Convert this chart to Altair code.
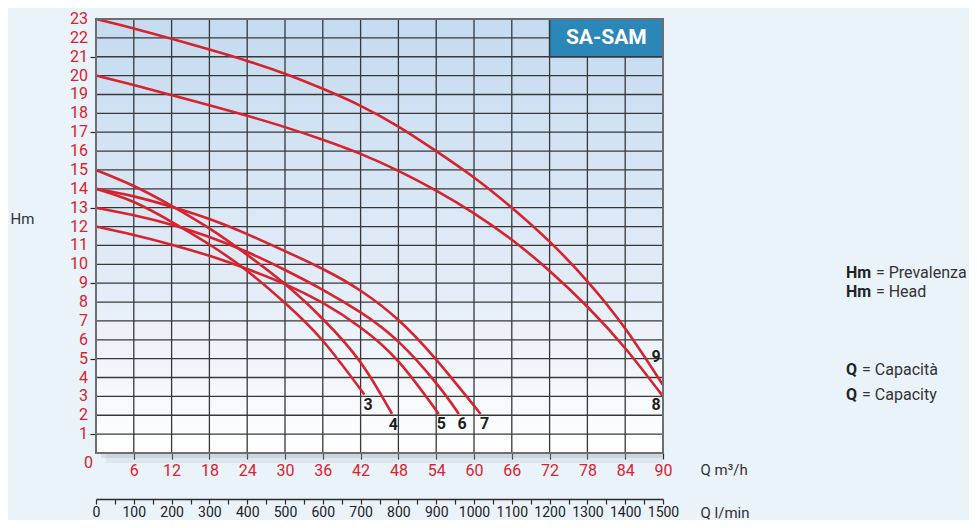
import altair as alt
import pandas as pd

# ---------------- data ----------------
curve_names = ["3", "4", "5", "6", "7", "8", "9"]

c3_q = [0, 6, 12, 18, 24, 30, 36, 42.6]
c3_h = [14, 13.3, 12.25, 11.05, 9.65, 7.95, 5.95, 3.1]

c4_q = [0, 6, 12, 18, 24, 30, 36, 42, 47]
c4_h = [15, 14.15, 13.1, 11.9, 10.5, 8.95, 7.1, 4.8, 2.07]

c5_q = [0, 6, 12, 18, 24, 30, 36, 42, 48, 54.4]
c5_h = [12, 11.55, 11.04, 10.45, 9.75, 8.95, 7.95, 6.65, 4.85, 2.07]

c6_q = [0, 6, 12, 18, 24, 30, 36, 42, 48, 54, 57.6]
c6_h = [13, 12.6, 12.1, 11.45, 10.65, 9.7, 8.65, 7.45, 5.9, 3.7, 2.07]

c7_q = [0, 6, 12, 18, 24, 30, 36, 42, 48, 54, 61.05]
c7_h = [14, 13.6, 13.05, 12.4, 11.6, 10.7, 9.75, 8.6, 7.05, 4.95, 2.07]

c8_q = [0, 6, 12, 18, 24, 30, 36, 42, 48, 54, 60, 66, 72, 78, 84, 90]
c8_h = [20, 19.5, 18.97, 18.43, 17.87, 17.27, 16.6, 15.85, 14.95, 13.9, 12.7, 11.3, 9.65, 7.75, 5.55, 3.0]

c9_q = [0, 6, 12, 18, 24, 30, 36, 42, 48, 54, 60, 66, 72, 78, 84, 90]
c9_h = [23, 22.5, 21.95, 21.38, 20.78, 20.1, 19.3, 18.4, 17.3, 16.0, 14.6, 13.0, 11.2, 9.1, 6.6, 3.6]

label_text = ["3", "4", "5", "6", "7", "8", "9"]
label_q = [43.2, 47.2, 54.8, 58.1, 61.7, 88.9, 88.9]
label_h = [2.55, 1.5, 1.55, 1.55, 1.55, 2.55, 5.1]

x_ticks = [6, 12, 18, 24, 30, 36, 42, 48, 54, 60, 66, 72, 78, 84, 90]
y_ticks = list(range(1, 24))
y_tick_labels = [str(v) for v in y_ticks]
lmin_ticks = list(range(0, 1501, 50))

x_grid = [6, 12, 18, 24, 30, 36, 42, 48, 54, 60, 66, 72, 78, 84]
y_grid = list(range(1, 23))

box_text = "SA-SAM"
box_q = [72, 90]
box_h = [21, 23]

legend_bold = ["Hm", "Hm", "Q", "Q"]
legend_rest = ["= Prevalenza", "= Head", "= Capacità", "= Capacity"]
# legend anchor positions, expressed in the chart's own units (Q, Hm)
legend_q = [119.05, 119.05, 119.05, 119.05]
legend_q2 = [123.8, 123.8, 121.6, 121.6]
legend_h = [9.54, 8.53, 4.40, 3.07]

# ---------------- styling ----------------
RED = "#d6232d"
FONT = "Roboto"
GRID = "#383838"
DARK = "#2a2a2a"

curve_sets = [c3_q, c4_q, c5_q, c6_q, c7_q, c8_q, c9_q]
curve_hs = [c3_h, c4_h, c5_h, c6_h, c7_h, c8_h, c9_h]
rows = []
for name, qs, hs in zip(curve_names, curve_sets, curve_hs):
    for i, (q, h) in enumerate(zip(qs, hs)):
        rows.append({"curve": name, "q": q, "h": h, "order": i})
curves_df = pd.DataFrame(rows)

xs = alt.Scale(domain=[0, 90], nice=False, zero=False)
ys = alt.Scale(domain=[0, 23], nice=False, zero=False)

frame_df = pd.DataFrame({"x": [0], "x2": [90], "y": [0], "y2": [23]})

x_axis = alt.Axis(
    values=x_ticks, labelColor=RED, labelFont=FONT, labelFontSize=16,
    tickColor=DARK, tickSize=6, tickWidth=1.2, domain=False, grid=False,
    labelPadding=3, labelOverlap=False, labelFlush=False,
    title="Q m³/h", titleX=604, titleY=16, titleAlign="left",
    titleBaseline="middle", titleFont=FONT, titleFontSize=15,
    titleFontWeight="normal", titleColor="#333333",
)
y_axis = alt.Axis(
    values=y_ticks, labels=False,
    tickColor=DARK, tickSize=6, tickWidth=1.2, domain=False, grid=False,
    title="Hm", titleAngle=0, titleX=-86, titleY=199,
    titleAlign="left", titleBaseline="middle", titleFont=FONT, titleFontSize=15,
    titleFontWeight="normal", titleColor="#333333",
)

shadow1 = alt.Chart(frame_df).mark_rect(
    color="#9aa7b4", opacity=0.25, xOffset=5, yOffset=5
).encode(x=alt.X("x:Q", scale=xs, axis=x_axis), x2="x2:Q",
         y=alt.Y("y:Q", scale=ys, axis=y_axis), y2="y2:Q")
shadow2 = alt.Chart(frame_df).mark_rect(
    color="#9aa7b4", opacity=0.15, xOffset=10, yOffset=10
).encode(x=alt.X("x:Q", scale=xs), x2="x2:Q",
         y=alt.Y("y:Q", scale=ys), y2="y2:Q")

bg = alt.Chart(frame_df).mark_rect(
    color=alt.Gradient(
        gradient="linear",
        stops=[
            alt.GradientStop(color="#c5dbf0", offset=0),
            alt.GradientStop(color="#e2ecf7", offset=0.6),
            alt.GradientStop(color="#ffffff", offset=1),
        ],
        x1=0, x2=0, y1=0, y2=1,
    )
).encode(x=alt.X("x:Q", scale=xs), x2="x2:Q",
         y=alt.Y("y:Q", scale=ys), y2="y2:Q")

vgrid = alt.Chart(pd.DataFrame({"q": x_grid})).mark_rule(
    color=GRID, strokeWidth=1.3
).encode(x=alt.X("q:Q", scale=xs), y=alt.value(0), y2=alt.value(434))

hgrid = alt.Chart(pd.DataFrame({"h": y_grid})).mark_rule(
    color=GRID, strokeWidth=1.3
).encode(y=alt.Y("h:Q", scale=ys), x=alt.value(0), x2=alt.value(567))

ylab = alt.Chart(pd.DataFrame({"h": y_ticks, "t": y_tick_labels})).mark_text(
    color=RED, font=FONT, fontSize=16, align="right", baseline="middle"
).encode(y=alt.Y("h:Q", scale=ys), x=alt.value(-8), text="t:N")

lines = alt.Chart(curves_df).mark_line(
    color=RED, strokeWidth=2.6, interpolate="natural"
).encode(
    x=alt.X("q:Q", scale=xs), y=alt.Y("h:Q", scale=ys),
    detail="curve:N", order="order:Q",
)

box_df = pd.DataFrame({"x": [box_q[0]], "x2": [box_q[1]], "y": [box_h[0]],
                       "y2": [box_h[1]], "t": [box_text],
                       "xm": [(box_q[0] + box_q[1]) / 2],
                       "ym": [(box_h[0] + box_h[1]) / 2]})
box = alt.Chart(box_df).mark_rect(
    color="#2a87b8", stroke="#2b3a46", strokeWidth=1.5
).encode(x=alt.X("x:Q", scale=xs), x2="x2:Q",
         y=alt.Y("y:Q", scale=ys), y2="y2:Q")
box_txt = alt.Chart(box_df).mark_text(
    color="white", font=FONT, fontSize=21, fontWeight="bold",
    align="center", baseline="middle"
).encode(x=alt.X("xm:Q", scale=xs), y=alt.Y("ym:Q", scale=ys), text="t:N")

frame = alt.Chart(frame_df).mark_rect(
    fill=None, stroke="#6e6e6e", strokeWidth=2
).encode(x=alt.X("x:Q", scale=xs), x2="x2:Q",
         y=alt.Y("y:Q", scale=ys), y2="y2:Q")

labels_df = pd.DataFrame({"t": label_text, "q": label_q, "h": label_h})
labels = alt.Chart(labels_df).mark_text(
    color="#1e1e1e", font=FONT, fontSize=16, fontWeight="bold",
    align="center", baseline="middle"
).encode(x=alt.X("q:Q", scale=xs), y=alt.Y("h:Q", scale=ys), text="t:N")

zero_lbl = alt.Chart(pd.DataFrame({"q": [0], "h": [0], "t": ["0"]})).mark_text(
    color=RED, font=FONT, fontSize=16, align="right", baseline="middle",
    dx=-3, dy=10
).encode(x=alt.X("q:Q", scale=xs), y=alt.Y("h:Q", scale=ys), text="t:N")

leg_df = pd.DataFrame({"b": legend_bold, "r": legend_rest, "q": legend_q,
                       "q2": legend_q2, "h": legend_h})
leg_b = alt.Chart(leg_df).mark_text(
    color="#222222", font=FONT, fontSize=16, fontWeight="bold",
    align="left", baseline="middle"
).encode(x=alt.X("q:Q", scale=xs), y=alt.Y("h:Q", scale=ys), text="b:N")
leg_r = alt.Chart(leg_df).mark_text(
    color="#333333", font=FONT, fontSize=16,
    align="left", baseline="middle"
).encode(x=alt.X("q2:Q", scale=xs), y=alt.Y("h:Q", scale=ys), text="r:N")

main = alt.layer(shadow1, shadow2, bg, vgrid, hgrid, lines, box, box_txt,
                 frame, labels, ylab, zero_lbl, leg_b, leg_r)

lmin_axis = alt.Axis(
    orient="bottom", offset=46, values=lmin_ticks,
    labelExpr="datum.value % 100 == 0 ? datum.label : ''",
    labelColor="#222222", labelFont=FONT, labelFontSize=14,
    tickColor=DARK, tickSize=5, tickWidth=1.2, domainColor=DARK,
    domainWidth=1.3, grid=False, labelPadding=1, labelFlush=False,
    labelOverlap=False, format="d",
    title="Q l/min", titleX=604, titleY=13, titleAlign="left",
    titleBaseline="middle", titleFont=FONT, titleFontSize=15,
    titleFontWeight="normal", titleColor="#333333",
)
lmin_layer = alt.Chart(pd.DataFrame({"l": lmin_ticks})).mark_point(
    opacity=0
).encode(x=alt.X("l:Q", scale=alt.Scale(domain=[0, 1500], nice=False),
                 axis=lmin_axis),
         y=alt.value(0))

chart = alt.layer(main, lmin_layer).resolve_scale(x="independent").resolve_axis(
    x="independent"
).properties(
    width=567, height=434,
    padding={"left": 88, "top": 11, "right": 306, "bottom": 67},
    autosize=alt.AutoSizeParams(type="none"),
    background="#eaf2fa",
).configure_view(stroke=None)

chart.save("out.html", embed_options={"renderer": "svg", "actions": False})
